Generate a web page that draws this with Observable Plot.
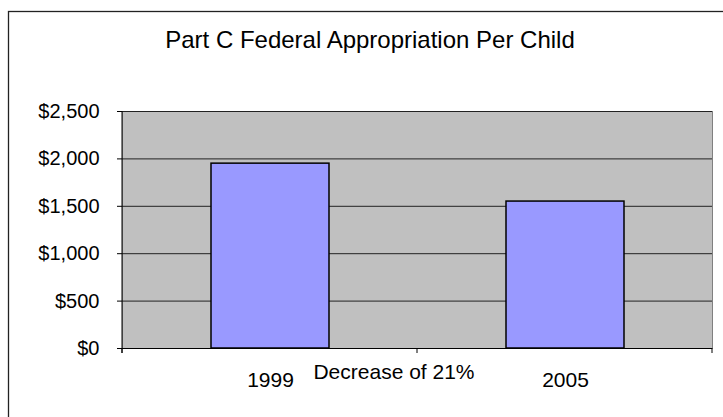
<!DOCTYPE html>
<html>
<head>
<meta charset="utf-8">
<script src="https://cdn.jsdelivr.net/npm/d3@7"></script>
<script src="https://cdn.jsdelivr.net/npm/@observablehq/plot@0.6"></script>
<style>
  html, body { margin: 0; padding: 0; background: white; overflow: hidden; }
  #chart { width: 723px; height: 417px; overflow: hidden; }
</style>
</head>
<body>
<div id="chart"></div>
<script>
const categories = ["1999", "2005"];
const values = [1950, 1550];
const yTicks = [0, 500, 1000, 1500, 2000, 2500];
const titleText = "Part C Federal Appropriation Per Child";
const noteText = "Decrease of 21%";

const data = categories.map((c, i) => ({year: c, value: values[i]}));
const font = "'Liberation Sans', Arial, sans-serif";

const plot = Plot.plot({
  width: 723,
  height: 417,
  marginLeft: 122,
  marginRight: 11,
  marginTop: 111,
  marginBottom: 69,
  style: {fontFamily: font, background: "white", color: "black", overflow: "hidden"},
  x: {domain: categories, paddingInner: 0.6, paddingOuter: 0.3, label: null},
  y: {domain: [0, 2500], label: null},
  marks: [
    Plot.frame({fill: "#C0C0C0", stroke: "#808080"}),
    Plot.gridY(yTicks, {stroke: "#222", strokeOpacity: 1}),
    Plot.barY(data, {x: "year", y: "value", fill: "#9999FF", stroke: "black", strokeWidth: 1.5}),
    Plot.ruleY([0], {stroke: "black"}),
    Plot.axisY(yTicks, {tickSize: 5, tickPadding: 18, fontSize: 20, stroke: "black",
      tickFormat: d => "$" + d3.format(",")(d)}),
    Plot.axisX({tickSize: 0, tickPadding: 24, fontSize: 21}),
    Plot.text([titleText], {frameAnchor: "top", lineAnchor: "top", dx: -47.5, dy: -81, fontSize: 24, fill: "black"}),
    Plot.text([noteText], {frameAnchor: "bottom", lineAnchor: "top", dx: -23.5, dy: 16, fontSize: 21, fill: "black"})
  ]
});

document.getElementById("chart").appendChild(plot);

// decorations: outer chart border, y-axis line, category boundary ticks
const svg = d3.select(plot);
const xs = plot.scale("x");
const ys = plot.scale("y");
const [x0, x1] = xs.range;
const yBase = ys.apply(0);
const yTop = ys.apply(2500);
const n = categories.length;
const g = svg.append("g").attr("stroke", "black").attr("fill", "none");
g.append("line").attr("x1", x0).attr("x2", x0).attr("y1", yTop).attr("y2", yBase + 5);
for (let i = 0; i <= n; i++) {
  const bx = x0 + i * (x1 - x0) / n;
  g.append("line").attr("x1", bx).attr("x2", bx).attr("y1", yBase).attr("y2", yBase + 5);
}
svg.insert("rect", ":first-child")
  .attr("x", 8.5).attr("y", 11.5).attr("width", 760).attr("height", 460)
  .attr("fill", "white").attr("stroke", "#222").attr("stroke-width", 1.3);
</script>
</body>
</html>
